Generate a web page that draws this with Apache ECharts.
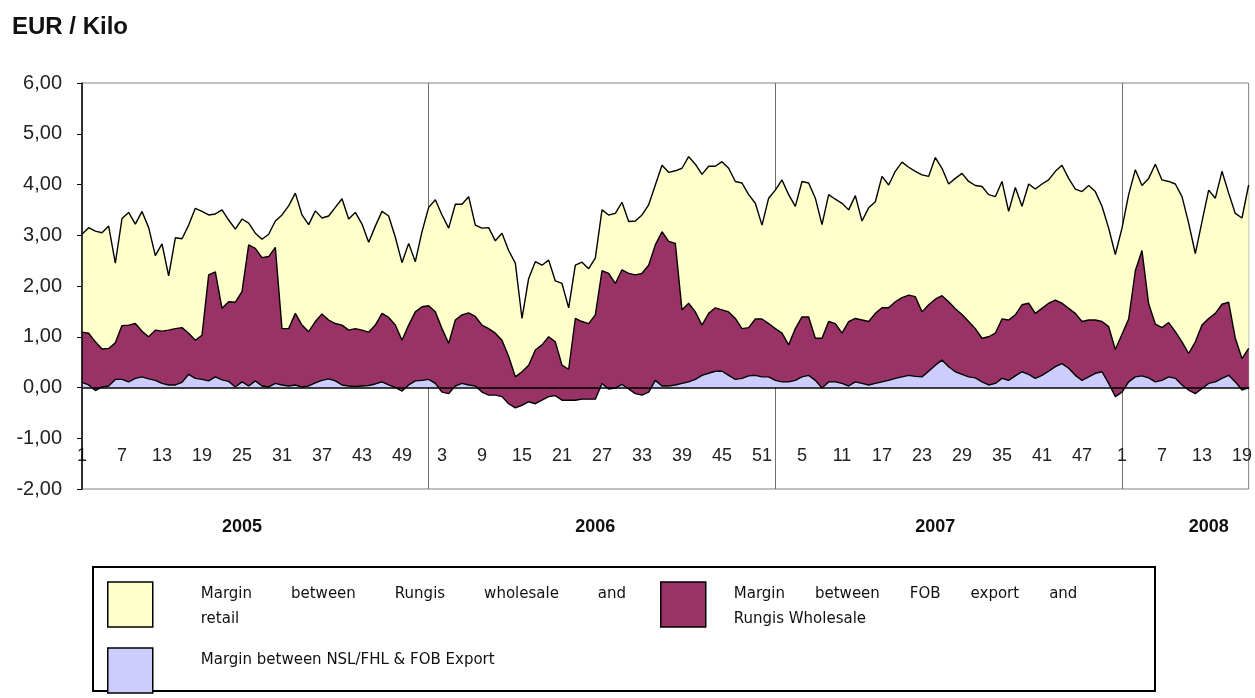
<!DOCTYPE html>
<html><head><meta charset="utf-8">
<script src="https://cdn.jsdelivr.net/npm/echarts@6/dist/echarts.min.js"></script>
<style>html,body{margin:0;padding:0;background:#fff}#c{width:1255px;height:698px}</style>
</head><body><div id="c"></div>
<script>
// ---- categories: ISO week numbers, 2005 W1 .. 2008 W20 ----
const weekLabels = [
 '1','2','3','4','5','6','7','8','9','10','11','12','13','14','15','16','17','18','19','20','21','22','23','24','25','26','27','28','29','30','31','32','33','34','35','36','37','38','39','40','41','42','43','44','45','46','47','48','49','50','51','52',
 '1','2','3','4','5','6','7','8','9','10','11','12','13','14','15','16','17','18','19','20','21','22','23','24','25','26','27','28','29','30','31','32','33','34','35','36','37','38','39','40','41','42','43','44','45','46','47','48','49','50','51','52',
 '1','2','3','4','5','6','7','8','9','10','11','12','13','14','15','16','17','18','19','20','21','22','23','24','25','26','27','28','29','30','31','32','33','34','35','36','37','38','39','40','41','42','43','44','45','46','47','48','49','50','51','52',
 '1','2','3','4','5','6','7','8','9','10','11','12','13','14','15','16','17','18','19','20'
];
const yearNames = ['2005','2006','2007','2008'];
const yearLabelWeek = ['25','26','25','14'];   // week under which each year caption sits

const seriesNames = [
 'Margin between NSL/FHL & FOB Export',
 'Margin between FOB export and Rungis Wholesale',
 'Margin between Rungis wholesale and retail'
];

// EUR / kilo, weekly
const marginNslFob = [
 0.10,0.05,-0.06,0.01,0.03,0.16,0.16,0.11,0.18,0.21,0.17,0.14,0.08,0.05,0.05,0.10,0.26,0.18,0.16,0.13,0.21,0.15,0.12,0.01,0.11,0.03,0.13,0.03,0.01,0.08,0.05,0.03,0.05,0.01,0.03,0.09,0.14,0.17,0.13,0.05,0.03,0.02,0.03,0.04,0.07,0.11,0.05,0.00,-0.07,0.05,0.13,0.14,
 0.16,0.08,-0.09,-0.12,0.03,0.08,0.05,0.03,-0.09,-0.15,-0.15,-0.18,-0.32,-0.40,-0.35,-0.28,-0.32,-0.25,-0.18,-0.16,-0.25,-0.25,-0.25,-0.23,-0.23,-0.23,0.08,-0.03,-0.01,0.06,-0.03,-0.12,-0.15,-0.09,0.14,0.03,0.03,0.05,0.08,0.11,0.16,0.24,0.28,0.32,0.32,0.24,0.16,0.18,0.23,0.24,0.21,0.21,
 0.14,0.11,0.11,0.14,0.21,0.24,0.14,-0.01,0.11,0.11,0.08,0.03,0.11,0.08,0.05,0.08,0.11,0.14,0.18,0.21,0.24,0.22,0.21,0.32,0.44,0.54,0.41,0.31,0.26,0.21,0.19,0.11,0.05,0.08,0.18,0.14,0.23,0.31,0.26,0.18,0.24,0.32,0.41,0.47,0.38,0.24,0.14,0.21,0.28,0.31,0.08,-0.18,
 -0.09,0.11,0.21,0.23,0.19,0.11,0.14,0.21,0.18,0.05,-0.05,-0.12,-0.02,0.08,0.11,0.18,0.24,0.11,-0.05,0.00
];
const marginFobRungis = [
 0.99,1.02,0.96,0.75,0.74,0.72,1.06,1.12,1.08,0.90,0.83,0.99,1.03,1.08,1.11,1.08,0.81,0.75,0.87,2.09,2.07,1.41,1.57,1.67,1.78,2.78,2.61,2.53,2.57,2.68,1.11,1.13,1.41,1.22,1.07,1.21,1.31,1.16,1.13,1.18,1.10,1.14,1.10,1.05,1.16,1.35,1.33,1.23,1.00,1.18,1.36,1.45,
 1.45,1.41,1.25,0.99,1.30,1.35,1.42,1.37,1.32,1.31,1.22,1.11,0.93,0.61,0.66,0.72,1.06,1.09,1.18,1.06,0.69,0.61,1.61,1.53,1.49,1.66,2.22,2.28,2.06,2.26,2.28,2.34,2.40,2.50,2.67,3.04,2.85,2.79,1.45,1.55,1.33,0.99,1.18,1.25,1.21,1.25,1.20,0.98,0.95,1.11,1.14,1.05,
 1.02,0.96,0.73,1.02,1.18,1.15,0.83,0.98,1.19,1.15,0.99,1.27,1.25,1.25,1.25,1.38,1.46,1.43,1.51,1.56,1.58,1.57,1.28,1.31,1.30,1.27,1.28,1.24,1.18,1.09,0.97,0.86,0.95,0.99,1.17,1.19,1.20,1.32,1.40,1.28,1.32,1.34,1.31,1.19,1.18,1.22,1.16,1.12,1.05,0.99,1.12,0.93,
 1.14,1.24,2.09,2.47,1.46,1.14,1.04,1.07,0.92,0.85,0.72,1.02,1.25,1.28,1.35,1.46,1.44,0.86,0.62,0.77
];
const marginRungisRetail = [
 1.93,2.08,2.18,2.29,2.41,1.57,2.11,2.22,1.96,2.36,2.15,1.47,1.72,1.07,1.79,1.75,2.13,2.60,2.44,1.18,1.14,1.94,1.61,1.44,1.43,0.43,0.30,0.36,0.44,0.52,2.24,2.42,2.37,2.17,2.11,2.18,1.89,2.05,2.29,2.49,2.19,2.29,2.09,1.77,1.95,2.01,2.00,1.73,1.53,1.61,0.99,1.48,
 1.94,2.21,2.24,2.27,2.28,2.18,2.29,1.80,1.91,1.99,1.82,2.11,2.09,2.24,1.05,1.71,1.74,1.57,1.51,1.20,1.61,1.21,1.05,1.17,1.08,1.12,1.20,1.15,1.38,1.33,1.02,1.06,1.15,1.19,1.18,1.31,1.36,1.43,2.79,2.89,2.91,2.97,2.90,2.79,2.92,2.83,2.70,2.87,2.62,2.28,1.85,2.47,
 2.73,3.02,2.96,2.41,2.67,2.64,2.76,2.24,2.50,2.45,2.56,2.20,2.42,1.95,2.24,2.20,2.59,2.42,2.57,2.67,2.52,2.47,2.70,2.53,2.79,2.51,2.32,2.57,2.78,2.76,2.82,2.99,2.80,2.69,2.71,2.14,2.51,1.94,2.35,2.45,2.45,2.43,2.54,2.72,2.56,2.45,2.56,2.65,2.53,2.27,1.94,1.87,
 2.09,2.45,1.99,1.28,2.47,3.15,2.91,2.78,2.91,2.86,2.57,1.74,2.04,2.53,2.27,2.62,2.15,2.46,2.77,3.22
];

// legend captions (justified first lines are built with rich-text gaps)
const legendLabels = {
 'Margin between Rungis wholesale and retail': 'Margin{a| }between{a| }Rungis{a| }wholesale{a| }and\nretail',
 'Margin between FOB export and Rungis Wholesale': 'Margin{b| }between{b| }FOB{b| }export{b| }and\nRungis Wholesale',
 'Margin between NSL/FHL & FOB Export': 'Margin between NSL/FHL & FOB Export\n '
};

const colors = ['#CCCCFF', '#993366', '#FFFFCC'];
const valuesBySeries = [marginNslFob, marginFobRungis, marginRungisRetail];

function legendOf(name, left, top, textGap) {
  return {
    data: [name], left: left, top: top, padding: 0,
    orient: 'vertical', icon: 'rect', itemWidth: 45, itemHeight: 45,
    selectedMode: false,
    itemStyle: { borderColor: '#000', borderWidth: 1.5 },
    formatter: n => legendLabels[n],
    textStyle: { fontFamily: 'DejaVu Sans', fontSize: 15, color: '#111', lineHeight: 25,
      padding: [5, 0, 0, textGap],
      rich: { a: { width: 39 }, b: { width: 30 } } }
  };
}

const option = {
  animation: false,
  backgroundColor: '#fff',
  title: { text: 'EUR / Kilo', left: 12, top: 15, padding: 0,
    textStyle: { fontFamily: 'Liberation Sans', fontWeight: 'bold', fontSize: 24, color: '#111' } },
  grid: { left: 82, right: 3, top: 83, bottom: 209, show: true, borderColor: '#808080', borderWidth: 1, backgroundColor: 'transparent' },
  legend: [
    legendOf(seriesNames[2], 107, 577, 43),
    legendOf(seriesNames[1], 660, 577, 23),
    legendOf(seriesNames[0], 107, 643, 43)
  ],
  xAxis: [
    { type: 'category', data: weekLabels, boundaryGap: false, z: 10,
      axisLine: { onZero: true, lineStyle: { color: '#000', width: 1.5 } },
      axisTick: { show: false }, axisLabel: { show: false }, splitLine: { show: false } },
    { type: 'category', data: weekLabels, boundaryGap: false, position: 'bottom', z: 0,
      axisLine: { show: false, onZero: false }, axisTick: { show: false },
      axisLabel: { inside: true, interval: 5, margin: 24, fontFamily: 'Liberation Sans', fontSize: 18, color: '#222' },
      splitLine: { show: true, interval: (i) => i > 0 && weekLabels[i] === '1', lineStyle: { color: '#707070', width: 1 } } }
  ],
  yAxis: {
    type: 'value', min: -2, max: 6, interval: 1, z: 10,
    axisLine: { show: true, lineStyle: { color: '#000', width: 1.5 } },
    axisTick: { show: true, length: 5, lineStyle: { color: '#000' } },
    axisLabel: { margin: 20, fontFamily: 'Liberation Sans', fontSize: 20, color: '#222',
      formatter: v => v.toFixed(2).replace('.', ',') },
    splitLine: { show: false }
  },
  series: valuesBySeries.map((vals, k) => ({
    name: seriesNames[k], type: 'line', data: vals, xAxisIndex: 0,
    stack: 'margins', stackStrategy: 'all',
    symbol: 'none', smooth: false, z: 2,
    itemStyle: { color: colors[k] },
    lineStyle: { color: '#000', width: 1.4 },
    areaStyle: { color: colors[k], opacity: 1 }
  }))
};

const chart = echarts.init(document.getElementById('c'));
chart.setOption(option);

// year captions placed under their anchor week
const starts = [];
weekLabels.forEach((w, i) => { if (w === '1') starts.push(i); });
const yearTexts = yearNames.map((y, k) => {
  const idx = starts[k] + weekLabels.slice(starts[k]).indexOf(yearLabelWeek[k]);
  const x = chart.convertToPixel({ xAxisIndex: 0 }, idx);
  return { type: 'text', x: x, y: 527,
    style: { text: y, font: 'bold 18px "Liberation Sans"', align: 'center', verticalAlign: 'middle', fill: '#111' } };
});
chart.setOption({ graphic: [
  { type: 'rect', shape: { x: 93, y: 567, width: 1062, height: 124 }, style: { fill: 'none', stroke: '#000', lineWidth: 2 }, z: 1 }
].concat(yearTexts) });
</script></body></html>
